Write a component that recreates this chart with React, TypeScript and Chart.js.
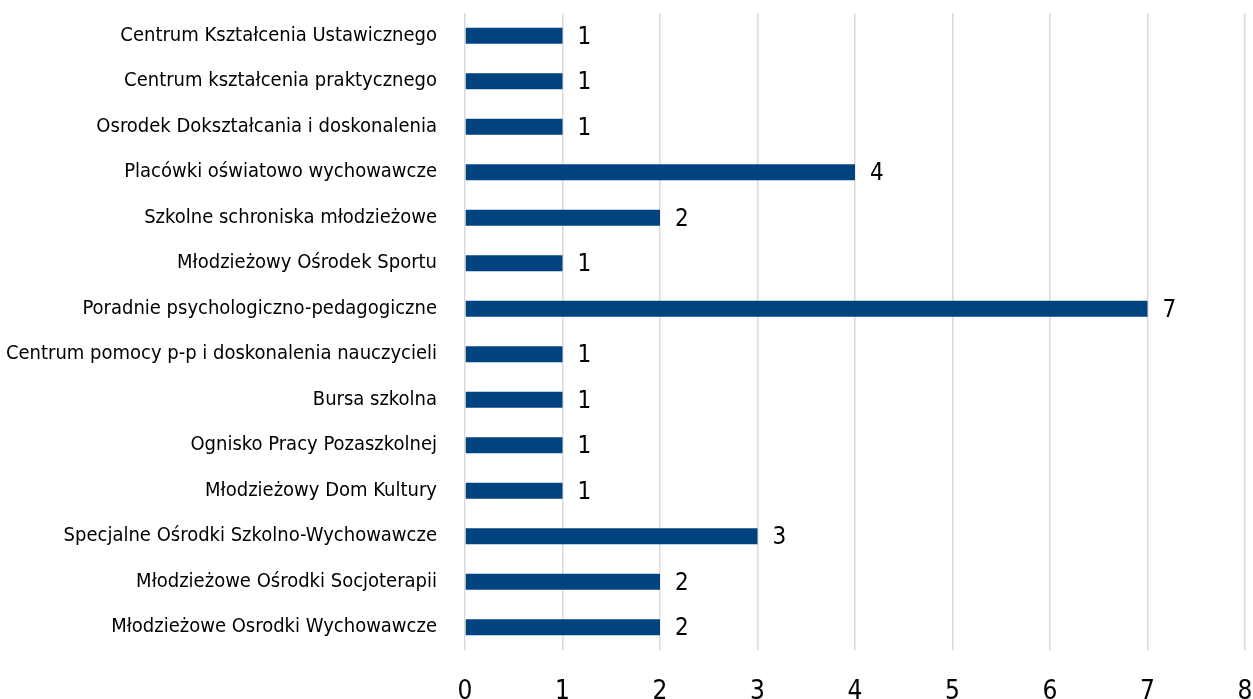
import React, { useEffect, useRef } from "react";
import { Chart, registerables } from "chart.js";

Chart.register(...registerables);

const categories: string[] = [
  "Centrum Kształcenia Ustawicznego",
  "Centrum kształcenia praktycznego",
  "Osrodek Dokształcania i doskonalenia",
  "Placówki oświatowo wychowawcze",
  "Szkolne schroniska młodzieżowe",
  "Młodzieżowy Ośrodek Sportu",
  "Poradnie psychologiczno-pedagogiczne",
  "Centrum pomocy p-p i doskonalenia nauczycieli",
  "Bursa szkolna",
  "Ognisko Pracy Pozaszkolnej",
  "Młodzieżowy Dom Kultury",
  "Specjalne Ośrodki Szkolno-Wychowawcze",
  "Młodzieżowe Ośrodki Socjoterapii",
  "Młodzieżowe Osrodki Wychowawcze",
];

const values: number[] = [1, 1, 1, 4, 2, 1, 7, 1, 1, 1, 1, 3, 2, 2];

const xTicks: number[] = [0, 1, 2, 3, 4, 5, 6, 7, 8];

const FONT = "'DejaVu Sans Condensed', 'Liberation Sans Narrow', 'Roboto', sans-serif";

const valueLabels = {
  id: "valueLabels",
  afterDatasetsDraw(chart: any) {
    const ctx = chart.ctx;
    const meta = chart.getDatasetMeta(0);
    ctx.save();
    ctx.font = `24px ${FONT}`;
    ctx.fillStyle = "#000000";
    ctx.textAlign = "left";
    ctx.textBaseline = "middle";
    meta.data.forEach((bar: any, i: number) => {
      const v = chart.data.datasets[0].data[i];
      ctx.fillText(String(v), bar.x + 15, bar.y + 2);
    });
    ctx.restore();
  },
};

export default function App() {
  const ref = useRef<HTMLCanvasElement | null>(null);

  useEffect(() => {
    if (!ref.current) return;
    const chart = new Chart(ref.current, {
      type: "bar",
      data: {
        labels: categories,
        datasets: [
          {
            data: values,
            backgroundColor: "#00437F",
            borderWidth: 0,
            barPercentage: 0.35,
            categoryPercentage: 1,
          },
        ],
      },
      options: {
        indexAxis: "y",
        responsive: false,
        animation: false,
        layout: { padding: { top: 13, right: 8, left: 0, bottom: 0 } },
        plugins: {
          legend: { display: false },
          tooltip: { enabled: false },
        },
        scales: {
          x: {
            min: 0,
            max: 8,
            afterBuildTicks: (scale: any) => {
              scale.ticks = xTicks.map((v) => ({ value: v }));
            },
            afterFit: (scale: any) => {
              scale.height = 49;
              scale.paddingLeft = 0;
              scale.paddingRight = 0;
            },
            grid: {
              color: "#D9D9D9",
              lineWidth: 1.5,
              drawTicks: false,
            },
            border: { display: false },
            ticks: {
              padding: 27,
              color: "#000000",
              font: { family: FONT, size: 26 },
              maxRotation: 0,
            },
          },
          y: {
            afterFit: (scale: any) => {
              scale.width = 465;
              scale.paddingTop = 0;
              scale.paddingBottom = 0;
            },
            grid: { display: false, drawTicks: false },
            border: { display: false },
            ticks: {
              padding: 28,
              color: "#000000",
              font: { family: FONT, size: 20 },
              autoSkip: false,
            },
          },
        },
      },
      plugins: [valueLabels],
    });
    return () => chart.destroy();
  }, []);

  return (
    <div style={{ position: "fixed", left: 0, top: 0, width: 1253, height: 699, background: "#fff" }}>
      <canvas ref={ref} width={1253} height={699} />
    </div>
  );
}
